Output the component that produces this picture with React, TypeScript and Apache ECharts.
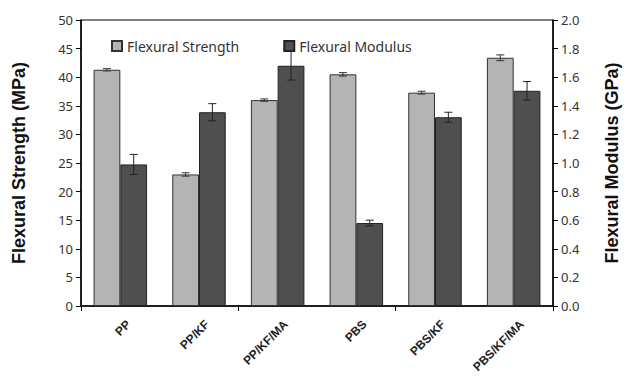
import React, { useEffect, useRef } from "react";
import * as echarts from "echarts";

const categories = ["PP", "PP/KF", "PP/KF/MA", "PBS", "PBS/KF", "PBS/KF/MA"];
const strength = [41.3, 23.0, 36.0, 40.5, 37.3, 43.4];
const strengthErr = [0.2, 0.3, 0.2, 0.3, 0.25, 0.5];
const modulus = [0.99, 1.355, 1.68, 0.58, 1.32, 1.505];
const modulusErr = [0.07, 0.06, 0.1, 0.02, 0.035, 0.065];

const FONT = "'Noto Sans', 'Open Sans', sans-serif";
const NAME_FONT = "'Liberation Sans', Arial, sans-serif";

function errorSeries(name: string, values: number[], errs: number[], yAxisIndex: number, side: number, color: string) {
  return {
    type: "custom",
    name,
    yAxisIndex,
    z: 10,
    silent: true,
    data: values.map((v, i) => [i, v - errs[i], v + errs[i]]),
    renderItem: (params: any, api: any) => {
      const idx = api.value(0);
      const band = api.size([1, 0])[0];
      const off = side * band * 0.17;
      const lo = api.coord([idx, api.value(1)]);
      const hi = api.coord([idx, api.value(2)]);
      const x = lo[0] + off;
      const cap = 4;
      const style = { stroke: color, lineWidth: 1 };
      return {
        type: "group",
        children: [
          { type: "line", shape: { x1: x, y1: lo[1], x2: x, y2: hi[1] }, style },
          { type: "line", shape: { x1: x - cap, y1: lo[1], x2: x + cap, y2: lo[1] }, style },
          { type: "line", shape: { x1: x - cap, y1: hi[1], x2: x + cap, y2: hi[1] }, style },
        ],
      };
    },
  };
}

export default function App() {
  const ref = useRef<HTMLDivElement>(null);
  useEffect(() => {
    if (!ref.current) return;
    const chart = echarts.init(ref.current, null, { renderer: "svg" });
    const axisLabel = { color: "#333", fontSize: 13, fontFamily: FONT };
    chart.setOption({
      animation: false,
      backgroundColor: "#fff",
      grid: { left: 81, right: 72, top: 20, bottom: 83, show: true, borderColor: "#000", borderWidth: 1 },
      legend: {
        left: 106,
        top: 34,
        itemWidth: 10,
        itemHeight: 10,
        itemGap: 44,
        icon: "rect",
        textStyle: { fontSize: 14, color: "#333", fontFamily: FONT },
        data: ["Flexural Strength", "Flexural Modulus"],
      },
      xAxis: {
        type: "category",
        data: categories,
        axisLine: { lineStyle: { color: "#000", width: 1.5 } },
        axisTick: { show: true, length: 5, lineStyle: { color: "#000" } },
        axisLabel: { show: false },
      },
      yAxis: [
        {
          type: "value",
          min: 0,
          max: 50,
          interval: 5,
          name: "Flexural Strength (MPa)",
          nameLocation: "middle",
          nameRotate: 90,
          nameGap: 53,
          nameTextStyle: { fontSize: 18, fontWeight: "bold", color: "#111", fontFamily: NAME_FONT },
          axisLine: { show: true, lineStyle: { color: "#000", width: 1.5 } },
          axisTick: { show: true, length: 5, lineStyle: { color: "#000" } },
          splitLine: { show: false },
          axisLabel: { ...axisLabel, margin: 8 },
        },
        {
          type: "value",
          min: 0,
          max: 2,
          interval: 0.2,
          name: "Flexural Modulus (GPa)",
          nameLocation: "middle",
          nameRotate: 90,
          nameGap: 50,
          nameTextStyle: { fontSize: 18, fontWeight: "bold", color: "#111", fontFamily: NAME_FONT },
          axisLine: { show: true, lineStyle: { color: "#000", width: 1.5 } },
          axisTick: { show: true, length: 5, lineStyle: { color: "#000" } },
          splitLine: { show: false },
          axisLabel: { ...axisLabel, margin: 8, formatter: (v: number) => v.toFixed(1) },
        },
      ],
      series: [
        {
          name: "Flexural Strength",
          type: "bar",
          yAxisIndex: 0,
          data: strength,
          barWidth: "34%",
          barGap: "0%",
          itemStyle: { color: "#b4b4b4", borderColor: "#333", borderWidth: 1 },
        },
        {
          name: "Flexural Modulus",
          type: "bar",
          yAxisIndex: 1,
          data: modulus,
          barWidth: "34%",
          barGap: "0%",
          itemStyle: { color: "#4f4f4f", borderColor: "#222", borderWidth: 1 },
        },
        errorSeries("sErr", strength, strengthErr, 0, -1, "#333"),
        errorSeries("mErr", modulus, modulusErr, 1, 1, "#222"),
      ],
    });
    const canvas = document.createElement("canvas");
    const ctx = canvas.getContext("2d");
    const fontSpec = "bold 12px " + NAME_FONT;
    if (ctx) ctx.font = fontSpec;
    const a = Math.PI / 4;
    const labels = categories.map((c, i) => {
      const p = chart.convertToPixel({ xAxisIndex: 0, yAxisIndex: 0 }, [i, 0]) as number[];
      const w = ctx ? ctx.measureText(c).width : c.length * 7;
      const ex = p[0] + 4;
      const ey = p[1] + 12;
      return {
        type: "text",
        x: ex - w * Math.cos(a),
        y: ey + w * Math.sin(a),
        rotation: a,
        silent: true,
        style: {
          text: c,
          fill: "#222",
          font: fontSpec,
        },
      };
    });
    chart.setOption({ graphic: labels });
    return () => chart.dispose();
  }, []);
  return <div ref={ref} style={{ width: 629, height: 389, position: "absolute", left: 0, top: 0 }} />;
}
